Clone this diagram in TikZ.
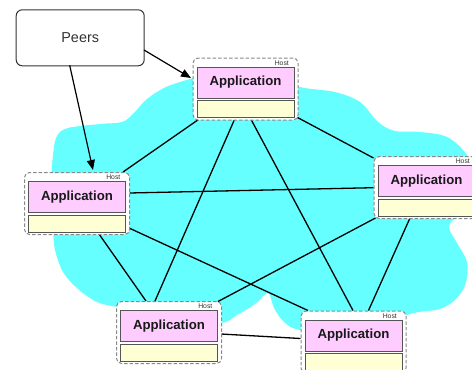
\documentclass[tikz,border=0pt]{standalone}
\usepackage{fontspec}
\setmainfont{Liberation Sans}
\usetikzlibrary{arrows.meta,calc}
\definecolor{cloudc}{HTML}{66FFFF}
\definecolor{pinkc}{HTML}{FFCCFF}
\definecolor{creamc}{HTML}{FFFFD5}
\definecolor{boxline}{HTML}{555555}
\definecolor{dashc}{HTML}{888888}
\definecolor{peertext}{HTML}{333333}
\pgfdeclarelayer{cloudl}
\pgfdeclarelayer{edgel}
\pgfsetlayers{cloudl,edgel,main}
\tikzset{
 hostouter/.style={draw=dashc, dash pattern=on 3.5pt off 2pt, line width=1pt, fill=white, rounded corners=5pt, minimum width=105pt, minimum height=62pt, inner sep=0pt, anchor=north west},
 apppink/.style={draw=boxline, fill=pinkc, line width=1pt, minimum width=97pt, minimum height=31pt, inner sep=0pt, anchor=north west, font=\fontsize{13.2}{15}\selectfont\bfseries, text=black!90},
 appcream/.style={draw=boxline, fill=creamc, line width=1pt, minimum width=97pt, minimum height=17pt, inner sep=0pt, anchor=north west},
 hostlabel/.style={anchor=east, inner sep=0pt, font=\fontsize{6.8}{7}\selectfont, text=black!80},
 link/.style={line width=1.3pt, black},
 peerarrow/.style={line width=1.2pt, black, -{Triangle[length=10pt,width=8pt]}},
 peersbox/.style={draw=peertext, line width=1pt, rounded corners=6pt, fill=white, minimum width=128pt, minimum height=56pt, inner sep=0pt, anchor=north west, font=\fontsize{14.4}{16}\selectfont, text=peertext}
}
\newcommand\hostnode[3]{%
 \node[hostouter] (#1) at (#2,#3) {};
 \node[apppink] (#1a) at ($(#1.north west)+(4,9)$) {Application};
 \node[appcream] (#1b) at ($(#1.north west)+(4,42.5)$) {};
 \node[hostlabel] (#1l) at ($(#1.north west)+(96.5,5.3)$) {Host};
}
\begin{document}
\begin{tikzpicture}[x=1pt,y=-1pt]
\useasboundingbox (0,0) rectangle (472,370);
\clip (0,0) rectangle (472,370);
\begin{pgfonlayer}{cloudl}
\fill[cloudc] plot[smooth cycle, tension=0.55] coordinates {
(190,79) (215,72) (270,75) (300,87) (335,92) (360,102) (378,122) (395,131) (420,132) (447,137) (467,155) (485,190) (455,218) (449,228) (457,243) (467,262) (466,282) (457,298) (440,309) (410,314) (350,335) (300,330) (284,322) (274,308) (268,293) (255,304) (237,315) (220,323) (170,318) (117,307) (97,302) (78,289) (63,272) (55,250) (53,232) (50,200) (53,155) (57,136) (68,128) (100,124) (122,122) (133,114) (147,99) (166,87)};
\end{pgfonlayer}
\node[peersbox] (peers) at (15.7,9.3) {Peers};
\hostnode{h1}{192.5}{57.5}
\hostnode{h2}{24}{172}
\hostnode{h3}{116}{301}
\hostnode{h4}{300.5}{310.5}
\hostnode{h5}{373.5}{156}
\begin{pgfonlayer}{edgel}
\draw[link] ($(h1.north west)+(105,60)$) -- ($(h5.north west)+(0,2)$);
\draw[link] ($(h1.north west)+(6,62)$) -- ($(h2.north west)+(99,0)$);
\draw[link] ($(h1.north west)+(42,62)$) -- ($(h3.north west)+(39,0)$);
\draw[link] ($(h1.north west)+(58.6,62)$) -- ($(h4.north west)+(52.5,0)$);
\draw[link] ($(h2.north west)+(105,21)$) -- ($(h5.north west)+(0,31.7)$);
\draw[link] ($(h2.north west)+(105,56)$) -- ($(h4.north west)+(7.5,0)$);
\draw[link] ($(h2.north west)+(75,62)$) -- ($(h3.north west)+(30,0)$);
\draw[link] ($(h3.north west)+(102,0.5)$) -- ($(h5.north west)+(2,62)$);
\draw[link] ($(h3.north west)+(105,33)$) -- ($(h4.north west)+(0,28)$);
\draw[link] ($(h4.north west)+(68,0)$) -- ($(h5.north west)+(36.5,62)$);
\end{pgfonlayer}
\draw[peerarrow] ($(peers.north west)+(128.3,40.7)$) -- ($(h1.north west)+(-1.5,20.5)$);
\draw[peerarrow] ($(peers.north west)+(54,56)$) -- ($(h2.north west)+(69,-2)$);
\end{tikzpicture}
\end{document}
